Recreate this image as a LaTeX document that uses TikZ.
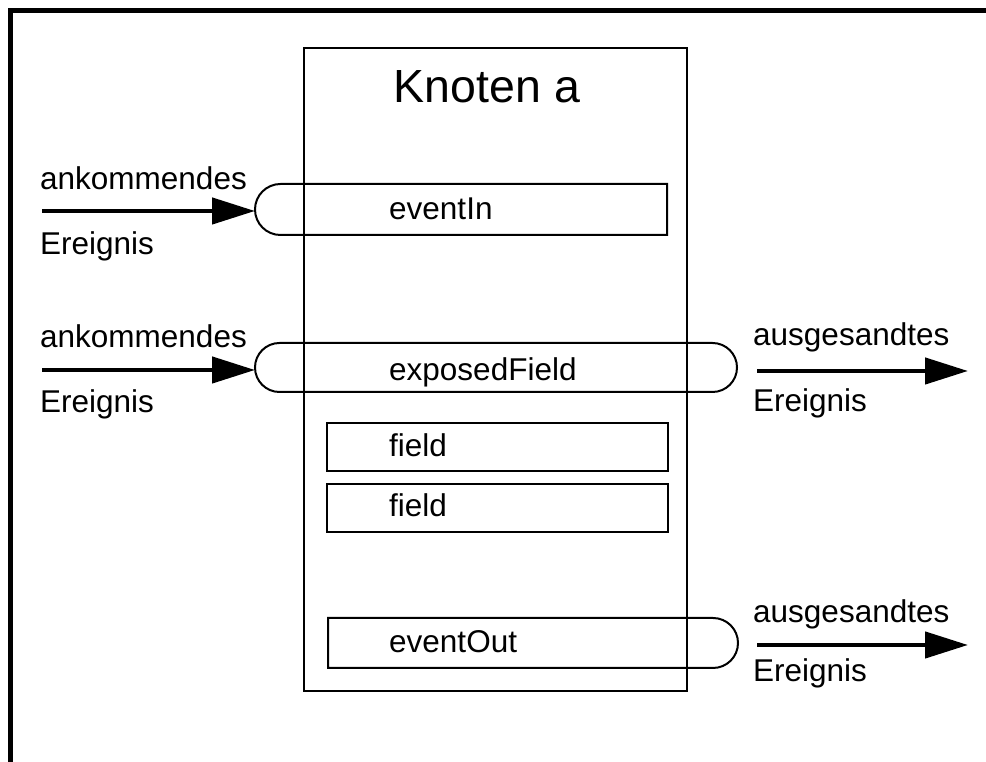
\documentclass[tikz,border=0pt]{standalone}
\usepackage{fontspec}
\setmainfont{Liberation Sans}
\usetikzlibrary{arrows.meta}

\begin{document}
\begin{tikzpicture}[x=1pt,y=1pt,
        txt/.style={inner sep=0pt,anchor=base west,font=\fontsize{31.5}{36}\selectfont},
        feld/.style={line width=2pt},
        ereignis/.style={line width=4.5pt,-{Triangle[length=43pt,width=26pt]}}]
        \useasboundingbox (0,0) rectangle (986,762);

        % Rahmen (links und oben)
        \draw[line width=5pt] (10,0) -- (10,751) -- (986,751);

        % Knoten a
        \coordinate (KA) at (304,71);
        \coordinate (KB) at (687,714);
        \draw[feld] (KA) rectangle (KB);
        \node[inner sep=0pt,anchor=base,font=\fontsize{46.5}{52}\selectfont] (titel) at (487,659) {Knoten a};

        % Felder
        \draw[feld] (667,527) -- (667,578) -- (280.5,578) arc[start angle=90,end angle=270,radius=25.5] -- cycle; % eventIn
        \draw[feld] (279.5,419) arc[start angle=90,end angle=270,radius=24.5] -- (712.5,370) arc[start angle=-90,end angle=90,radius=24.5] -- cycle; % exposedField
        \draw[feld] (327,291) rectangle (668,339);
        \draw[feld] (327,230) rectangle (668,278);
        \draw[feld] (328,94) -- (713,94) arc[start angle=-90,end angle=90,radius=25] -- (328,144) -- cycle; % eventOut

        \node[txt] (fIn) at (389,542) {eventIn};
        \node[txt] (fExp) at (389,381) {exposedField};
        \node[txt] (fA) at (389,305) {field};
        \node[txt] (fB) at (389,245) {field};
        \node[txt] (fOut) at (389,109) {eventOut};

        % Ereignisse
        \coordinate (inA0) at (42,551);  \coordinate (inA1) at (255,551);
        \coordinate (inB0) at (42,392);  \coordinate (inB1) at (255,392);
        \coordinate (outA0) at (757,391); \coordinate (outA1) at (968,391);
        \coordinate (outB0) at (757,117); \coordinate (outB1) at (968,117);
        \draw[ereignis] (inA0) -- (inA1);
        \draw[ereignis] (inB0) -- (inB1);
        \draw[ereignis] (outA0) -- (outA1);
        \draw[ereignis] (outB0) -- (outB1);

        \node[txt] (inAo) at (40,572) {ankommendes};
        \node[txt] (inAu) at (40,507) {Ereignis};
        \node[txt] (inBo) at (40,414) {ankommendes};
        \node[txt] (inBu) at (40,349) {Ereignis};
        \node[txt] (outAo) at (753,416) {ausgesandtes};
        \node[txt] (outAu) at (753,350) {Ereignis};
        \node[txt] (outBo) at (753,139) {ausgesandtes};
        \node[txt] (outBu) at (753,80) {Ereignis};
    \end{tikzpicture}
\end{document}
